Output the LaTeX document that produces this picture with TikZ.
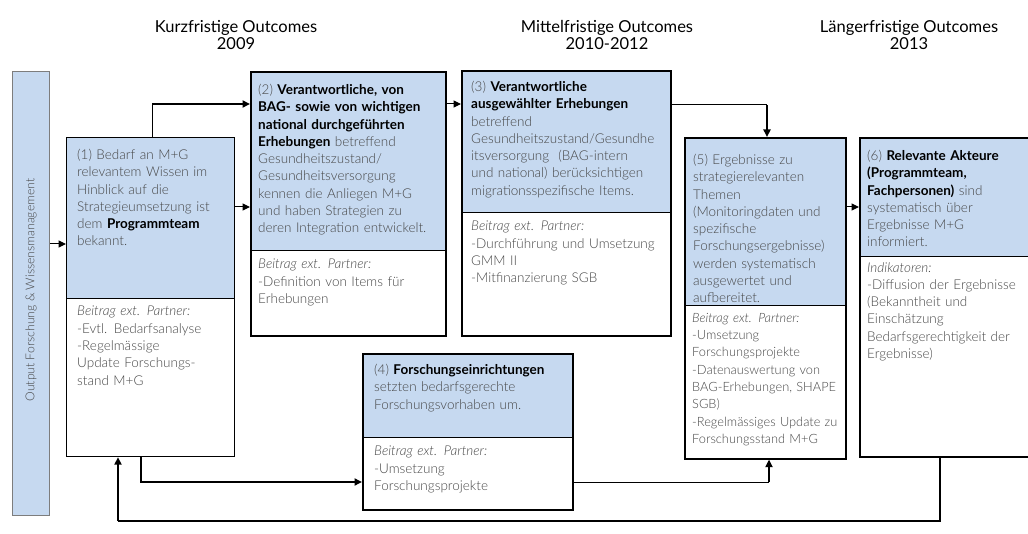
\documentclass[tikz,border=0pt]{standalone}
\usepackage{fontspec}
\setmainfont{Lato}[UprightFont={* Light}, ItalicFont={* Light Italic}, BoldFont={* Bold}]
\newfontfamily\hdrfamily{Lato}
\usetikzlibrary{arrows.meta}
\definecolor{cblue}{RGB}{198,217,240}
\definecolor{cgray}{RGB}{70,70,70}
\definecolor{cedge}{RGB}{125,125,125}
\newcommand{\emphb}[1]{\textbf{\color{black}#1}}
\newcommand{\boxfont}{\fontsize{13.5}{17.3}\selectfont}
\newcommand{\narrowfont}{\fontsize{12.8}{17.3}\selectfont}

\begin{document}
\begin{tikzpicture}[x=1pt,y=-1pt,
  boxframe/.style={draw=black, line width=#1, inner sep=0pt, anchor=north west},
  boxframe/.default=1.2pt,
  topfill/.style={fill=cblue, inner sep=0pt, anchor=north west},
  body/.style={anchor=north west, inner sep=0pt, text width=220pt, align=left, font=\boxfont, text=cgray},
  hdr/.style={align=center, font=\hdrfamily\fontsize{16.5}{17}\selectfont, text=black},
  divider/.style={draw=black, line width=0.8pt},
  wire/.style={draw=black, line width=#1},
  wire/.default=1pt,
  arrowtip/.style={-{Triangle[length=7.5pt,width=7pt]}},
]
\clip (0,0) rectangle (1028,534);

% column headings
\node[hdr] (h1) at (236,35) {Kurzfristige Outcomes\\2009};
\node[hdr] (h2) at (607,35) {Mittelfristige Outcomes\\2010-2012};
\node[hdr] (h3) at (909,35) {Längerfristige Outcomes\\2013};

% input bar on the left
\node[fill=cblue, draw=cedge, line width=1pt, minimum width=37pt, minimum height=444pt,
      anchor=north west, inner sep=0pt] (bar) at (12,71) {};
\node[rotate=90, font=\fontsize{12.2}{14}\selectfont, text=cgray] (bartxt) at (31,290)
  {Output Forschung \& Wissensmanagement};

% blue upper parts of the outcome boxes
\node[topfill, minimum width=168pt, minimum height=161pt] (b1top) at (66,137) {};
\node[topfill, minimum width=195pt, minimum height=179pt] (b2top) at (250,71) {};
\node[topfill, minimum width=209pt, minimum height=142pt] (b3top) at (461,70) {};
\node[topfill, minimum width=210pt, minimum height=84pt]  (b4top) at (362,353) {};
\node[topfill, minimum width=161pt, minimum height=168pt] (b5top) at (684,137) {};
\node[topfill, minimum width=175pt, minimum height=119pt] (b6top) at (859,137) {};

% dividers between outcome and partner contribution
\foreach \n in {1,...,6} \draw[divider] (b\n top.south west) -- (b\n top.south east);

% box outlines
\node[boxframe, minimum width=168pt, minimum height=319pt] (b1) at (66,137) {};
\node[boxframe=2pt, minimum width=195pt, minimum height=264pt] (b2) at (250,71) {};
\node[boxframe=2pt, minimum width=209pt, minimum height=265pt] (b3) at (461,70) {};
\node[boxframe=1.6pt, minimum width=210pt, minimum height=156pt] (b4) at (362,353) {};
\node[boxframe=1.6pt, minimum width=161pt, minimum height=321pt] (b5) at (684,137) {};
\node[boxframe=1.6pt, minimum width=175pt, minimum height=319pt] (b6) at (859,137) {};

% box texts
\node[body] (t1a) at (77,149) {(1) Bedarf an M+G\\relevantem Wissen im\\Hinblick auf die\\Strategieumsetzung ist\\dem \emphb{Programmteam}\\bekannt.};
\node[body] (t1b) at (77,306) {\textit{Beitrag ext. Partner:}\\-Evtl. Bedarfsanalyse\\-Regelmässige\\Update Forschungs-\\stand M+G};

\node[body] (t2a) at (258,84) {(2) \emphb{Verantwortliche, von}\\\emphb{BAG- sowie von wichtigen}\\\emphb{national durchgeführten}\\\emphb{Erhebungen} betreffend\\Gesundheitszustand/\\Gesundheitsversorgung\\kennen die Anliegen M+G\\und haben Strategien zu\\deren Integration entwickelt.};
\node[body] (t2b) at (258,259) {\textit{Beitrag ext. Partner:}\\-Definition von Items für\\Erhebungen};

\node[body] (t3a) at (471,81) {(3) \emphb{Verantwortliche}\\\emphb{ausgewählter Erhebungen}\\betreffend\\Gesundheitszustand/Gesundhe\\itsversorgung\ \ (BAG-intern\\und national) berücksichtigen\\migrationsspezifische Items.};
\node[body] (t3b) at (471,221) {\textit{Beitrag ext. Partner:}\\-Durchführung und Umsetzung\\GMM II\\-Mitfinanzierung SGB};

\node[body] (t4a) at (374,364) {(4) \emphb{Forschungseinrichtungen}\\setzten bedarfsgerechte\\Forschungsvorhaben um.};
\node[body] (t4b) at (374,446) {\textit{Beitrag ext. Partner:}\\-Umsetzung\\Forschungsprojekte};

\node[body] (t5a) at (693,154) {(5) Ergebnisse zu\\strategierelevanten\\Themen\\(Monitoringdaten und\\spezifische\\Forschungsergebnisse)\\werden systematisch\\ausgewertet und\\aufbereitet.};
\node[body, font=\narrowfont] (t5b) at (692,313) {\textit{Beitrag ext. Partner:}\\-Umsetzung\\Forschungsprojekte\\-Datenauswertung von\\BAG-Erhebungen, SHAPE\\SGB)\\-Regelmässiges Update zu\\Forschungsstand M+G};

\node[body] (t6a) at (867,150) {(6) \emphb{Relevante Akteure}\\\emphb{(Programmteam,}\\\emphb{Fachpersonen)} sind\\systematisch über\\Ergebnisse M+G\\informiert.};
\node[body] (t6b) at (867,262) {\textit{Indikatoren:}\\-Diffusion der Ergebnisse\\(Bekanntheit und\\Einschätzung\\Bedarfsgerechtigkeit der\\Ergebnisse)};

% connectors
\coordinate (j1) at (152,104);
\coordinate (j2) at (767,105);
\coordinate (j3) at (141,482);
\coordinate (j4) at (769,482);
\coordinate (j5) at (940,521);
\coordinate (j6) at (118,521);

\draw[wire, arrowtip] (bar.east |- 0,244) -- (b1.west |- 0,244);
\draw[wire] (b1.north -| j1) -- (j1);
\draw[wire=2.2pt, arrowtip] (j1) -- (b2.west |- j1);
\draw[wire, arrowtip] (b1.east |- 0,207) -- (b2.west |- 0,207);
\draw[wire, arrowtip] (b2.east |- 0,104) -- (b3.west |- 0,104);
\draw[wire] (b3.east |- j2) -- (j2);
\draw[wire=2pt, arrowtip] (j2) -- (b5.north -| j2);
\draw[wire, arrowtip] (b5.east |- 0,207) -- (b6.west |- 0,207);
\draw[wire=1.8pt, arrowtip] (b1.south -| j3) -- (j3) -- (b4.west |- j3);
\draw[wire] (b4.east |- j4) -- (j4);
\draw[wire=2.2pt, arrowtip] (j4) -- (b5.south -| j4);
\draw[wire=1.3pt] (b6.south -| j5) -- (j5) -- (j6);
\draw[wire=2.2pt, arrowtip] (j6) -- (b1.south -| j6);
\end{tikzpicture}
\end{document}
